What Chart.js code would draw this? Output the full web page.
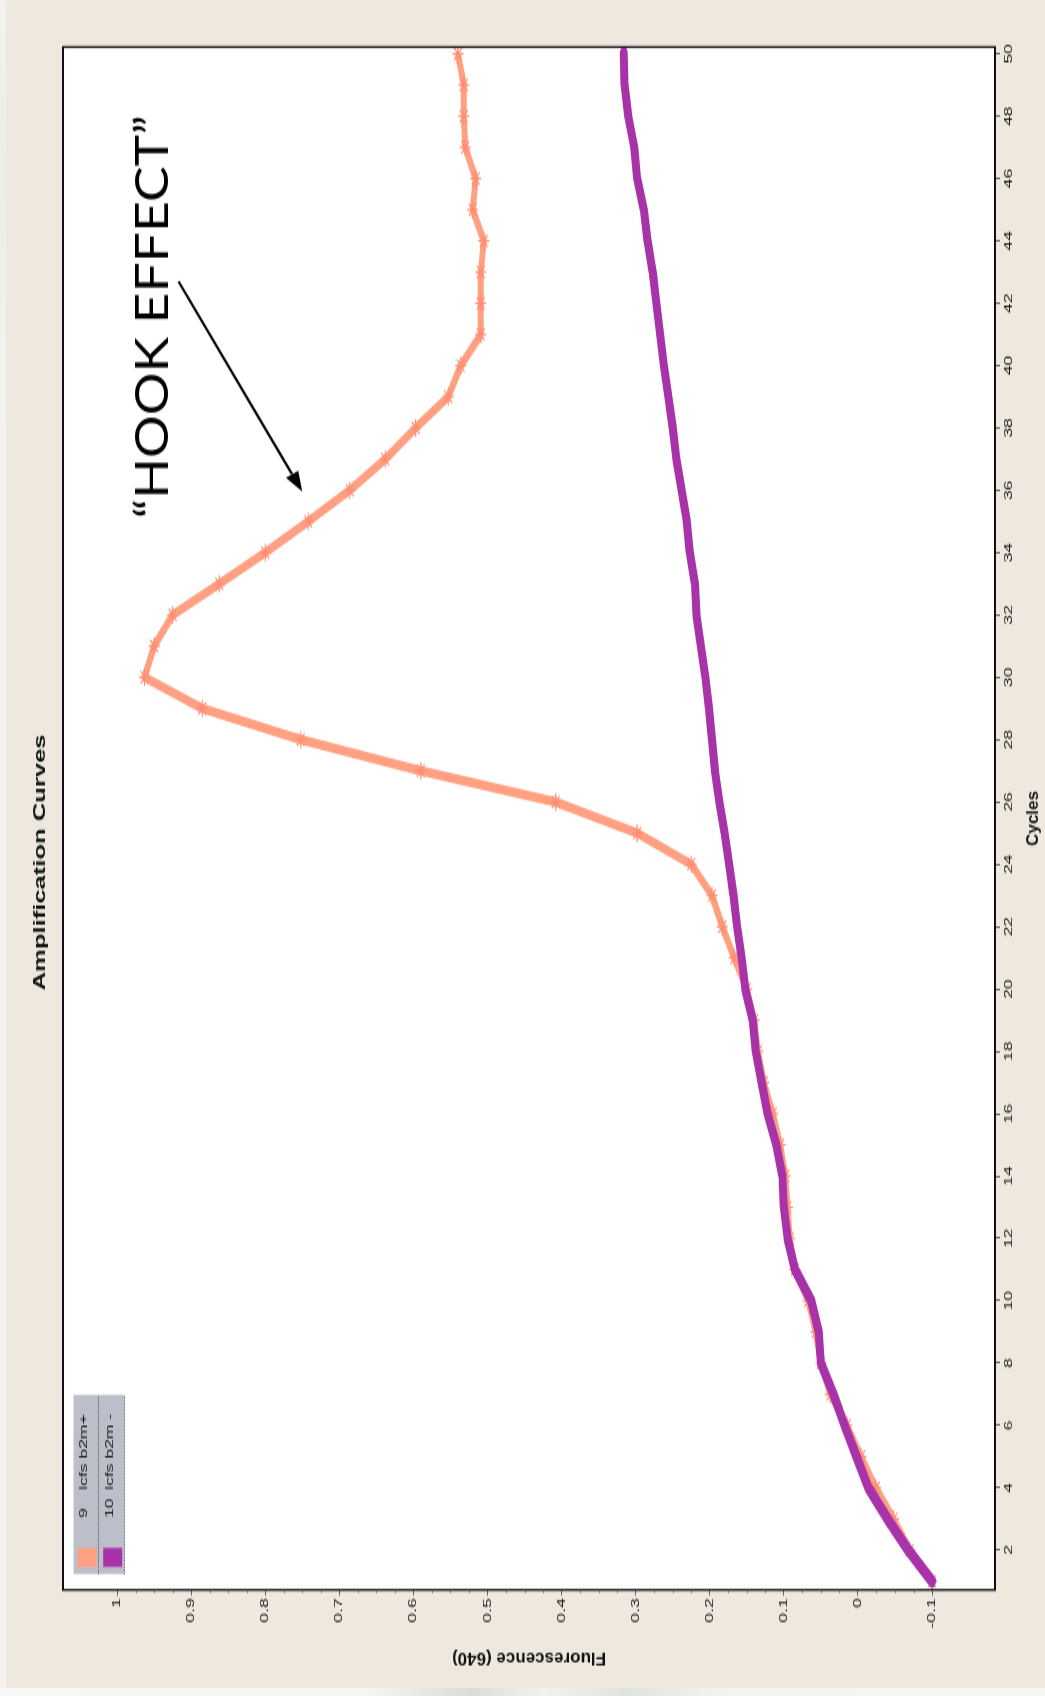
<!DOCTYPE html>
<html>
<head>
<meta charset="utf-8">
<title>Amplification Curves</title>
<script src="https://cdn.jsdelivr.net/npm/chart.js@4.4.1/dist/chart.umd.min.js"></script>
<style>
  html, body { margin: 0; padding: 0; }
  body {
    width: 1045px; height: 1696px; overflow: hidden; position: relative;
    background: #eee8df;
  }
  #edgeLeft {
    position: absolute; left: 0; top: 0; width: 6px; height: 1696px;
    background: linear-gradient(180deg, #f3f2ee 0%, #e9efe6 10%, #f4f3ef 25%, #f5f3ef 100%);
  }
  #edgeBottom {
    position: absolute; left: 0; top: 1688px; width: 1045px; height: 8px;
    background: linear-gradient(90deg, #f7f7f5 0%, #f5f6f3 35%, #d9ddd6 45%, #f2f3ef 52%, #dfe4dc 60%, #f4f5f2 70%, #f6f6f4 100%);
  }
  /* the chart is laid out landscape, then turned a quarter turn and stretched along its cycle axis */
  #stage {
    position: absolute; left: 0; top: 0;
    width: 1060px; height: 1045px;
    transform-origin: 0 0;
    transform: matrix(0, -1.6, 1, 0, 0, 1696);
  }
  #stage canvas { display: block; }
</style>
</head>
<body>
<div id="edgeLeft"></div>
<div id="edgeBottom"></div>
<div id="stage"><canvas id="amp" width="1060" height="1045"></canvas></div>

<script>
// ---- data -------------------------------------------------------------
const cycles = [1, 2, 3, 4, 5, 6, 7, 8, 9, 10,
                11, 12, 13, 14, 15, 16, 17, 18, 19, 20,
                21, 22, 23, 24, 25, 26, 27, 28, 29, 30,
                31, 32, 33, 34, 35, 36, 37, 38, 39, 40,
                41, 42, 43, 44, 45, 46, 47, 48, 49, 50];

// sample 9: lcfs b2m+
const b2mPos = [-0.100, -0.070, -0.048, -0.024, -0.004, 0.015, 0.037, 0.050, 0.057, 0.067,
                 0.085,  0.092,  0.095,  0.098,  0.105, 0.115, 0.127, 0.135, 0.140, 0.150,
                 0.167,  0.183,  0.197,  0.225,  0.298, 0.408, 0.590, 0.752, 0.885, 0.963,
                 0.950,  0.925,  0.862,  0.800,  0.742, 0.686, 0.638, 0.597, 0.553, 0.536,
                 0.509,  0.509,  0.509,  0.505,  0.520, 0.516, 0.530, 0.532, 0.532, 0.540];

// sample 10: lcfs b2m -
const b2mNeg = [-0.100, -0.068, -0.040, -0.014, 0.002, 0.018, 0.033, 0.050, 0.053, 0.063,
                 0.085,  0.095,  0.100,  0.102, 0.110, 0.122, 0.130, 0.138, 0.142, 0.152,
                 0.157,  0.163,  0.168,  0.174, 0.180, 0.187, 0.193, 0.197, 0.201, 0.206,
                 0.212,  0.218,  0.220,  0.227, 0.231, 0.238, 0.245, 0.250, 0.256, 0.262,
                 0.267,  0.272,  0.277,  0.284, 0.289, 0.298, 0.302, 0.310, 0.315, 0.316];

const seriesNames  = ['lcfs b2m+', 'lcfs b2m -'];
const sampleIds    = ['9', '10'];
const seriesColors = ['#ffa083', '#a833a8'];

const cycleTicks  = [2, 4, 6, 8, 10, 12, 14, 16, 18, 20, 22, 24, 26,
                     28, 30, 32, 34, 36, 38, 40, 42, 44, 46, 48, 50];
const cycleLabels = cycleTicks.map(String);
const fluorTicks  = [-0.1, 0, 0.1, 0.2, 0.3, 0.4, 0.5, 0.6, 0.7, 0.8, 0.9, 1];
const fluorLabels = ['-0.1', '0', '0.1', '0.2', '0.3', '0.4', '0.5', '0.6', '0.7', '0.8', '0.9', '1'];
const fluorMinorStep = 0.025;

const chartTitle = 'Amplification Curves';
const xTitle = 'Cycles';
const yTitle = 'Fluorescence (640)';
const hookText = '\u201CHOOK EFFECT\u201D';
// annotation anchors in data units (cycle, fluorescence)
const hookLabelAt = [35.1, 0.931];
const hookArrowFrom = [42.70, 0.917];
const hookArrowTo = [35.96, 0.750];

// ---- drawing ----------------------------------------------------------
const STRETCH = 1.6;           // horizontal stretch applied by the stage transform
const SANS = '"Liberation Sans", Arial, sans-serif';

const decor = {
  id: 'decor',
  beforeDatasetsDraw(chart) {
    const { ctx, chartArea: a } = chart;
    ctx.save();
    ctx.fillStyle = '#ffffff';
    ctx.fillRect(a.left, a.top, a.right - a.left, a.bottom - a.top);
    ctx.restore();
  },
  afterDatasetsDraw(chart) {
    const { ctx, chartArea: a, scales: { x, y } } = chart;
    ctx.save();

    // plot frame
    ctx.strokeStyle = '#111';
    ctx.lineWidth = 2;
    ctx.beginPath();
    ctx.moveTo(a.left, a.top); ctx.lineTo(a.right, a.top);
    ctx.moveTo(a.left, a.bottom); ctx.lineTo(a.right, a.bottom);
    ctx.stroke();
    ctx.lineWidth = 2 / STRETCH;
    ctx.beginPath();
    ctx.moveTo(a.left, a.top - 1); ctx.lineTo(a.left, a.bottom + 1);
    ctx.moveTo(a.right, a.top - 1); ctx.lineTo(a.right, a.bottom + 1);
    ctx.stroke();

    // minor ticks on the fluorescence axis
    ctx.strokeStyle = '#666';
    ctx.lineWidth = 1;
    ctx.beginPath();
    const lo = fluorTicks[0], hi = fluorTicks[fluorTicks.length - 1];
    for (let k = 0; lo + k * fluorMinorStep <= hi + 1e-9; k++) {
      if (k % 4 === 0) continue;
      const py = Math.round(y.getPixelForValue(lo + k * fluorMinorStep)) + 0.5;
      ctx.moveTo(a.left, py); ctx.lineTo(a.left - 1.8, py);
    }
    ctx.stroke();

    // legend box (top-left inside the plot)
    const lx = a.left + 10, ly = a.top + 10.5, lw = 112, rowH = 25.5;
    ctx.fillStyle = '#bcbec9';
    ctx.fillRect(lx, ly, lw, rowH * 2);
    ctx.strokeStyle = '#555';
    ctx.lineWidth = 1;
    ctx.setLineDash([1, 1]);
    for (let r = 1; r <= 2; r++) {
      const py = Math.round(ly + rowH * r) - 0.5;
      ctx.beginPath(); ctx.moveTo(lx, py); ctx.lineTo(lx + lw, py); ctx.stroke();
    }
    ctx.setLineDash([]);
    ctx.font = '11px ' + SANS;
    ctx.textBaseline = 'alphabetic';
    ctx.textAlign = 'left';
    for (let r = 0; r < 2; r++) {
      const top = ly + rowH * r;
      ctx.fillStyle = seriesColors[r];
      ctx.fillRect(lx + 4.4, top + 4.2, 11.9, 19);
      ctx.fillStyle = '#161616';
      ctx.fillText(sampleIds[r], lx + 35, top + 13.5);
      ctx.fillText(seriesNames[r], lx + 52.5, top + 13.5);
    }

    // chart title
    ctx.fillStyle = '#111';
    ctx.font = 'bold 16px ' + SANS;
    ctx.textAlign = 'center';
    ctx.fillText(chartTitle, chart.width / 2 - 9, 45);

    // axis titles (drawn un-stretched)
    ctx.font = 'bold 17px ' + SANS;
    ctx.textBaseline = 'middle';
    ctx.save();
    ctx.translate((a.left + a.right) / 2, 1033);
    ctx.scale(1 / STRETCH, 1);
    ctx.fillText(xTitle, 0, 0);
    ctx.restore();
    ctx.save();
    ctx.translate(23.75, (a.top + a.bottom) / 2);
    ctx.scale(1 / STRETCH, 1);
    ctx.rotate(-Math.PI / 2);
    ctx.fillText(yTitle, 0, 0);
    ctx.restore();

    // "HOOK EFFECT" note and arrow, in un-stretched units
    ctx.save();
    ctx.scale(1 / STRETCH, 1);
    ctx.fillStyle = '#000';
    ctx.strokeStyle = '#000';
    ctx.font = '47px Lato, "Open Sans", sans-serif';
    ctx.textAlign = 'left';
    ctx.textBaseline = 'alphabetic';
    const tx = x.getPixelForValue(hookLabelAt[0]) * STRETCH;
    const ty = y.getPixelForValue(hookLabelAt[1]);
    const natural = ctx.measureText(hookText).width;
    ctx.save();
    ctx.translate(tx, ty);
    ctx.scale(403 / natural, 1);
    ctx.fillText(hookText, 0, 0);
    ctx.restore();

    const x0 = x.getPixelForValue(hookArrowFrom[0]) * STRETCH, y0 = y.getPixelForValue(hookArrowFrom[1]);
    const x1 = x.getPixelForValue(hookArrowTo[0]) * STRETCH,   y1 = y.getPixelForValue(hookArrowTo[1]);
    const ang = Math.atan2(y1 - y0, x1 - x0);
    const headLen = 20, headHalf = 7;
    const bx = x1 - headLen * Math.cos(ang), by = y1 - headLen * Math.sin(ang);
    ctx.lineWidth = 2.4;
    ctx.beginPath(); ctx.moveTo(x0, y0); ctx.lineTo(bx, by); ctx.stroke();
    ctx.beginPath();
    ctx.moveTo(x1, y1);
    ctx.lineTo(bx + headHalf * Math.sin(ang), by - headHalf * Math.cos(ang));
    ctx.lineTo(bx - headHalf * Math.sin(ang), by + headHalf * Math.cos(ang));
    ctx.closePath(); ctx.fill();
    ctx.restore();

    ctx.restore();
  }
};

const toPoints = vals => cycles.map((c, i) => ({ x: c, y: vals[i] }));

new Chart(document.getElementById('amp'), {
  type: 'line',
  data: {
    datasets: [
      {
        label: sampleIds[0] + ' ' + seriesNames[0],
        data: toPoints(b2mPos),
        borderColor: seriesColors[0],
        borderWidth: 6,
        pointStyle: 'star',
        pointRadius: 5.5,
        pointBorderColor: '#ff8e72',
        pointBorderWidth: 1.1,
        pointBackgroundColor: seriesColors[0],
        borderJoinStyle: 'round',
        tension: 0,
        order: 2
      },
      {
        label: sampleIds[1] + ' ' + seriesNames[1],
        data: toPoints(b2mNeg),
        borderColor: seriesColors[1],
        borderWidth: 8,
        pointRadius: 0,
        borderJoinStyle: 'round',
        borderCapStyle: 'round',
        tension: 0,
        order: 1
      }
    ]
  },
  options: {
    responsive: false,
    animation: false,
    devicePixelRatio: 1,
    layout: { padding: { left: 0, top: 63, right: 29.4, bottom: 0 } },
    plugins: { legend: { display: false }, tooltip: { enabled: false }, title: { display: false } },
    scales: {
      x: {
        type: 'linear',
        position: 'bottom',
        min: 0.72,
        max: 50.22,
        afterFit: s => { s.height = 50; },
        afterBuildTicks: s => { s.ticks = cycleTicks.map(v => ({ value: v })); },
        grid: { drawOnChartArea: false, drawTicks: true, tickLength: 5, tickColor: '#666', tickWidth: 1 },
        border: { display: false },
        ticks: {
          autoSkip: false, maxRotation: 0, padding: 2.5,
          color: '#151515', font: { family: SANS, size: 11 },
          callback: (v, i) => cycleLabels[i]
        }
      },
      y: {
        type: 'linear',
        position: 'left',
        min: -0.185,
        max: 1.073,
        afterFit: s => { s.width = 66.25; },
        afterBuildTicks: s => { s.ticks = fluorTicks.map(v => ({ value: v })); },
        grid: { drawOnChartArea: false, drawTicks: true, tickLength: 3.6, tickColor: '#666', tickWidth: 1 },
        border: { display: false },
        ticks: {
          autoSkip: false, padding: 1.5,
          color: '#151515', font: { family: SANS, size: 11 },
          callback: (v, i) => fluorLabels[i]
        }
      }
    }
  },
  plugins: [decor]
});
</script>
</body>
</html>
